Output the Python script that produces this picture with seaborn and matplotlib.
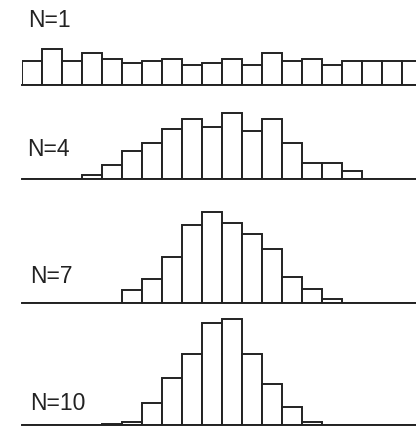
import numpy as np
import pandas as pd
import seaborn as sns
from matplotlib import pyplot as plt

# bar heights per bin (bins are unit wide, counted from the left edge)
labels = ["N=1", "N=4", "N=7", "N=10"]
n1_bins = list(range(20))
n1_heights = [24, 36, 24, 32, 26, 22, 24, 26, 20, 22, 26, 20, 32, 24, 26, 20, 24, 24, 24, 24]
n4_bins = list(range(3, 17))
n4_heights = [4, 14, 28, 36, 50, 60, 52, 66, 48, 60, 36, 16, 16, 8]
n7_bins = list(range(5, 16))
n7_heights = [13, 24, 46, 78, 91, 80, 69, 54, 26, 14, 4]
n10_bins = list(range(4, 15))
n10_heights = [1, 3, 22, 47, 71, 102, 106, 71, 41, 18, 3]

W, H = 416, 426
sns.set_style("white")
plt.rcParams["font.family"] = ["Liberation Sans", "DejaVu Sans"]

fig = plt.figure(figsize=(W / 100, H / 100), dpi=100)

panels = [
    (n1_bins, n1_heights),
    (n4_bins, n4_heights),
    (n7_bins, n7_heights),
    (n10_bins, n10_heights),
]
# panel geometry in pixels from the top of the figure
baselines = [85, 178.7, 302.7, 425.3]
tops = [0, 85, 178.7, 302.7]
label_pos = [(0.3, 58), (0.25, 22.7), (0.43, 19.4), (0.43, 15.3)]

left_px, right_px = 22, 416
for (bins, heights), base, top, lab, (tx, ty) in zip(panels, baselines, tops, labels, label_pos):
    ax = fig.add_axes([left_px / W, (H - base) / H, (right_px - left_px) / W, (base - top) / H])
    df = pd.DataFrame({"bin": np.array(bins) + 0.5, "count": heights})
    sns.histplot(data=df, x="bin", weights="count", binwidth=1, binrange=(0, 20), ax=ax,
                 color="white", edgecolor="#222222", linewidth=1.4, alpha=1)
    ax.set_xlim(0, (right_px - left_px) / 20)
    ax.set_ylim(0, base - top)
    ax.set_xticks([])
    ax.set_yticks([])
    ax.set_xlabel("")
    ax.set_ylabel("")
    for side in ["top", "left", "right"]:
        ax.spines[side].set_visible(False)
    ax.spines["bottom"].set_color("#222222")
    ax.spines["bottom"].set_linewidth(1.4)
    ax.patch.set_alpha(0)
    ax.text(tx, ty, lab, fontsize=16.5, color="#222222", va="baseline", ha="left")

fig.savefig("out.png", dpi=100)
